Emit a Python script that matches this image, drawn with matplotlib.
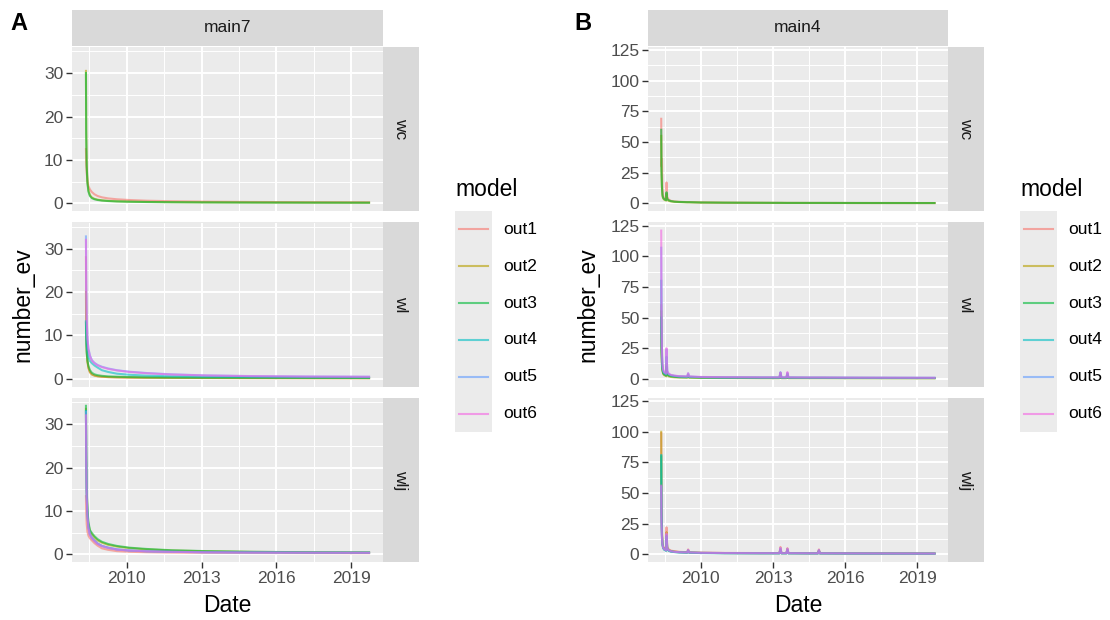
import matplotlib
matplotlib.use("Agg")
import matplotlib.pyplot as plt
from matplotlib.ticker import FixedLocator

plt.rcParams['font.family'] = ['Liberation Sans', 'DejaVu Sans']

# ---------------- data ----------------
models = ["out1", "out2", "out3", "out4", "out5", "out6"]
colors = ["#F8766D", "#B79F00", "#00BA38", "#00BFC4", "#619CFF", "#F564E3"]
rows = ["wc", "wl", "wlj"]
x_breaks = [2010, 2013, 2016, 2019]
x_minor = [2008.5, 2011.5, 2014.5, 2017.5]

# Panel A (main7) – time points (decimal years)
tA = [2008.36, 2008.37, 2008.39, 2008.42, 2008.46, 2008.52, 2008.60, 2008.70, 2008.83, 2009.0,
      2009.25, 2009.6, 2010.1, 2010.8, 2011.8, 2013.2, 2015.0, 2017.2, 2019.72]

a_wc_out1 = [12.5, 9.5, 7.0, 5.2, 4.0, 3.2, 2.6, 2.1, 1.7, 1.4, 1.15, 0.95, 0.78, 0.62, 0.5, 0.4, 0.33, 0.28, 0.25]
a_wc_out2 = [30.5, 17, 9, 5.0, 3.0, 1.9, 1.35, 1.05, 0.85, 0.7, 0.58, 0.48, 0.4, 0.33, 0.28, 0.24, 0.2, 0.18, 0.16]
a_wc_out3 = [30.0, 16, 8.5, 4.6, 2.7, 1.7, 1.2, 0.95, 0.78, 0.65, 0.54, 0.45, 0.38, 0.32, 0.27, 0.23, 0.2, 0.18, 0.16]

a_wl_out1 = [28, 14, 7.5, 4.2, 2.6, 1.6, 1.1, 0.8, 0.62, 0.5, 0.42, 0.36, 0.31, 0.27, 0.24, 0.21, 0.19, 0.17, 0.16]
a_wl_out2 = [20, 11, 6.5, 3.9, 2.5, 1.5, 1.0, 0.75, 0.6, 0.5, 0.42, 0.36, 0.31, 0.27, 0.24, 0.21, 0.19, 0.17, 0.16]
a_wl_out3 = [13, 9, 6, 4.2, 3.0, 2.0, 1.4, 1.05, 0.85, 0.7, 0.58, 0.5, 0.43, 0.37, 0.32, 0.28, 0.25, 0.23, 0.21]
a_wl_out4 = [13.3, 10.5, 8.0, 6.2, 5.0, 4.1, 3.6, 3.1, 2.6, 2.0, 1.6, 1.2, 0.95, 0.75, 0.6, 0.5, 0.43, 0.38, 0.35]
a_wl_out5 = [32.8, 22, 14, 9.5, 7.0, 5.4, 4.3, 3.7, 3.2, 2.8, 2.4, 2.0, 1.65, 1.35, 1.05, 0.8, 0.65, 0.55, 0.5]
a_wl_out6 = [32.0, 21, 13.5, 9.2, 6.8, 5.2, 4.2, 3.6, 3.1, 2.7, 2.3, 1.95, 1.6, 1.3, 1.0, 0.78, 0.63, 0.53, 0.48]

a_wlj_out1 = [13.4, 10, 7.0, 5.2, 4.3, 3.7, 3.2, 2.6, 2.0, 1.4, 1.05, 0.75, 0.6, 0.5, 0.42, 0.36, 0.32, 0.3, 0.28]
a_wlj_out2 = [33.5, 23, 14.5, 10, 7.0, 5.3, 4.6, 3.9, 3.2, 2.7, 2.2, 1.8, 1.45, 1.15, 0.9, 0.72, 0.58, 0.5, 0.45]
a_wlj_out3 = [34.2, 24, 15, 10.5, 7.4, 5.6, 4.9, 4.2, 3.5, 2.9, 2.4, 1.95, 1.55, 1.25, 0.95, 0.75, 0.6, 0.5, 0.45]
a_wlj_out4 = [33, 22, 13.5, 9.0, 6.2, 4.6, 3.8, 3.2, 2.5, 1.95, 1.55, 1.15, 0.9, 0.72, 0.6, 0.5, 0.45, 0.4, 0.38]
a_wlj_out5 = [32.8, 22, 13.5, 9.0, 6.2, 4.6, 3.8, 3.2, 2.5, 1.95, 1.55, 1.15, 0.9, 0.72, 0.6, 0.5, 0.45, 0.4, 0.38]
a_wlj_out6 = [32.0, 21, 13, 8.6, 6.0, 4.5, 3.7, 3.1, 2.4, 1.9, 1.5, 1.1, 0.88, 0.7, 0.58, 0.48, 0.43, 0.4, 0.37]

# Panel B (main4)
tB = [2008.35, 2008.36, 2008.38, 2008.40, 2008.43, 2008.47, 2008.52, 2008.55, 2008.57, 2008.60,
      2008.66, 2008.75, 2008.9, 2009.1, 2009.43, 2009.47, 2009.51, 2010.0, 2011.0, 2012.5,
      2013.27, 2013.31, 2013.35, 2013.56, 2013.60, 2013.64, 2014.5, 2014.87, 2014.91, 2014.95,
      2016.5, 2019.72]

b_wc_out1 = [69, 30, 36, 12, 6, 4, 3.5, 3, 17, 5, 3, 2, 1.5, 1.2, 1, 1, 1, 0.7, 0.5, 0.4,
             0.35, 0.35, 0.35, 0.3, 0.3, 0.3, 0.3, 0.3, 0.3, 0.3, 0.25, 0.2]
b_wc_out2 = [55, 25, 12, 6, 4, 3, 2.5, 2.2, 8, 3, 2, 1.5, 1.2, 1.0, 0.8, 0.8, 0.8, 0.6, 0.45, 0.35,
             0.3, 0.3, 0.3, 0.3, 0.3, 0.3, 0.25, 0.25, 0.25, 0.25, 0.2, 0.2]
b_wc_out3 = [60, 28, 14, 7, 4.5, 3.5, 2.8, 2.5, 9, 3.5, 2.5, 1.8, 1.3, 1.1, 0.9, 0.9, 0.9, 0.65, 0.5, 0.4,
             0.35, 0.35, 0.35, 0.3, 0.3, 0.3, 0.3, 0.3, 0.3, 0.3, 0.25, 0.2]

b_wl_out1 = [60, 30, 14, 8, 5, 4, 3.5, 3, 12, 4, 3, 2.5, 2, 1.6, 1.5, 3, 1.5, 1.2, 1.0, 0.9,
             0.9, 5, 0.9, 0.9, 4.5, 0.9, 0.8, 0.8, 0.8, 0.8, 0.7, 0.6]
b_wl_out2 = [55, 25, 12, 7, 4, 3, 2.5, 2, 8, 3, 2, 1.5, 1.2, 1.0, 0.9, 1.5, 0.9, 0.7, 0.6, 0.5,
             0.5, 2, 0.5, 0.5, 2, 0.5, 0.5, 0.5, 0.5, 0.5, 0.45, 0.4]
b_wl_out3 = [50, 24, 12, 7, 4.5, 3.5, 3, 2.5, 10, 3.5, 2.5, 2, 1.6, 1.3, 1.1, 2, 1.1, 0.9, 0.7, 0.6,
             0.6, 3, 0.6, 0.6, 3, 0.6, 0.6, 0.6, 0.6, 0.6, 0.55, 0.5]
b_wl_out4 = [80, 40, 18, 9, 6, 4.5, 4, 3.5, 18, 5, 3.5, 2.8, 2.2, 1.8, 1.6, 3.5, 1.6, 1.3, 1.1, 1.0,
             1.0, 4.5, 1.0, 1.0, 4, 1.0, 0.9, 0.9, 0.9, 0.9, 0.8, 0.7]
b_wl_out5 = [107, 50, 22, 11, 7, 5, 4.5, 4, 24, 6, 4, 3, 2.5, 2, 1.8, 4.5, 1.8, 1.4, 1.2, 1.1,
             1.1, 5.5, 1.1, 1.1, 5, 1.1, 1.0, 1.0, 1.0, 1.0, 0.9, 0.8]
b_wl_out6 = [121, 55, 24, 12, 7.5, 5.5, 5, 4.2, 25, 6.5, 4.2, 3.2, 2.6, 2.1, 1.9, 4.5, 1.9, 1.5, 1.3, 1.1,
             1.1, 5, 1.1, 1.1, 5.5, 1.1, 1.0, 1.0, 1.0, 1.0, 0.9, 0.8]

b_wlj_out1 = [99, 45, 20, 10, 6.5, 5, 4.5, 4, 22, 6, 4, 3, 2.5, 2, 1.7, 4, 1.7, 1.3, 1.1, 1.0,
              1.0, 6, 1.0, 1.0, 5, 1.0, 0.9, 0.9, 4, 0.9, 0.8, 0.7]
b_wlj_out2 = [100, 40, 18, 9, 6, 4.5, 4, 3.5, 18, 5, 3.5, 2.7, 2.2, 1.8, 1.5, 3, 1.5, 1.2, 1.0, 0.9,
              0.9, 4, 0.9, 0.9, 4, 0.9, 0.8, 0.8, 3, 0.8, 0.7, 0.6]
b_wlj_out3 = [80, 35, 16, 8, 5.5, 4, 3.5, 3, 15, 4.5, 3, 2.3, 1.9, 1.6, 1.4, 3, 1.4, 1.1, 0.9, 0.8,
              0.8, 4, 0.8, 0.8, 3.5, 0.8, 0.7, 0.7, 3, 0.7, 0.6, 0.55]
b_wlj_out4 = [81, 35, 15, 8, 5, 3.8, 3.3, 2.8, 14, 4, 2.8, 2.2, 1.8, 1.5, 1.3, 2.5, 1.3, 1.0, 0.85, 0.75,
              0.75, 3, 0.75, 0.75, 3, 0.75, 0.7, 0.7, 2.5, 0.7, 0.6, 0.5]
b_wlj_out5 = [55, 28, 14, 8, 5.5, 4.2, 3.7, 3.2, 16, 4.8, 3.3, 2.5, 2.0, 1.7, 1.5, 3.5, 1.5, 1.2, 1.0, 0.9,
              0.9, 5, 0.9, 0.9, 4.5, 0.9, 0.8, 0.8, 3.5, 0.8, 0.7, 0.6]
b_wlj_out6 = [56, 28, 14, 8, 5.5, 4.2, 3.7, 3.2, 17, 4.8, 3.3, 2.5, 2.0, 1.7, 1.5, 3.5, 1.5, 1.2, 1.0, 0.9,
              0.9, 5, 0.9, 0.9, 4.5, 0.9, 0.8, 0.8, 3.5, 0.8, 0.7, 0.6]

panelA = {
    "wc": [a_wc_out1, a_wc_out2, a_wc_out3],
    "wl": [a_wl_out1, a_wl_out2, a_wl_out3, a_wl_out4, a_wl_out5, a_wl_out6],
    "wlj": [a_wlj_out1, a_wlj_out2, a_wlj_out3, a_wlj_out4, a_wlj_out5, a_wlj_out6],
}
panelB = {
    "wc": [b_wc_out1, b_wc_out2, b_wc_out3],
    "wl": [b_wl_out1, b_wl_out2, b_wl_out3, b_wl_out4, b_wl_out5, b_wl_out6],
    "wlj": [b_wlj_out1, b_wlj_out2, b_wlj_out3, b_wlj_out4, b_wlj_out5, b_wlj_out6],
}

# ---------------- layout ----------------
W, H = 1110, 620
fig = plt.figure(figsize=(W / 100, H / 100), dpi=100)
fig.patch.set_facecolor("white")


def rect(x0, y0, x1, y1):
    return [x0 / W, 1 - y1 / H, (x1 - x0) / W, (y1 - y0) / H]


PANEL_BG = "#EBEBEB"
STRIP_BG = "#D9D9D9"
TICK_FS = 12.5
TITLE_FS = 16.5
LW = 1.5
ALPHA = 0.6
row_y = [(47, 211), (222.5, 386.5), (398, 562)]


def draw_block(x0, x1, strip_label, data, t, ylim, yticks, yminor, label, label_x,
               ylab_x, leg_x):
    # top strip
    sa = fig.add_axes(rect(x0, 10, x1, 46))
    sa.set_facecolor(STRIP_BG)
    sa.set_xticks([]); sa.set_yticks([])
    for s in sa.spines.values():
        s.set_visible(False)
    sa.text(0.5, 0.5, strip_label, ha="center", va="center", fontsize=TICK_FS,
            color="#1A1A1A", transform=sa.transAxes)
    for i, r in enumerate(rows):
        y0, y1 = row_y[i]
        ax = fig.add_axes(rect(x0, y0, x1, y1))
        ax.set_facecolor(PANEL_BG)
        for s in ax.spines.values():
            s.set_visible(False)
        ax.set_axisbelow(True)
        for k, series in enumerate(data[r]):
            ax.plot(t, series, color=colors[k], lw=LW, alpha=ALPHA,
                    solid_joinstyle="round")
        ax.set_xlim(2007.8, 2020.28)
        ax.set_ylim(*ylim)
        ax.xaxis.set_major_locator(FixedLocator(x_breaks))
        ax.xaxis.set_minor_locator(FixedLocator(x_minor))
        ax.yaxis.set_major_locator(FixedLocator(yticks))
        ax.yaxis.set_minor_locator(FixedLocator(yminor))
        ax.grid(which="major", color="white", lw=1.4)
        ax.grid(which="minor", color="white", lw=0.7)
        ax.tick_params(which="minor", length=0)
        ax.tick_params(axis="y", which="major", length=4.3, width=1.0, color="#333333",
                       labelsize=TICK_FS, labelcolor="#4D4D4D", pad=2)
        ax.set_yticklabels([str(v) for v in yticks])
        if i == 2:
            ax.tick_params(axis="x", which="major", length=4.3, width=1.0, color="#333333",
                           labelsize=TICK_FS, labelcolor="#4D4D4D", pad=2)
            ax.set_xticklabels([str(v) for v in x_breaks])
        else:
            ax.tick_params(axis="x", which="major", length=0, labelbottom=False)
        # right strip
        ra = fig.add_axes(rect(x1, y0, x1 + 36, y1))
        ra.set_facecolor(STRIP_BG)
        ra.set_xticks([]); ra.set_yticks([])
        for s in ra.spines.values():
            s.set_visible(False)
        ra.text(0.5, 0.5, r, ha="center", va="center", rotation=-90, fontsize=TICK_FS,
                color="#1A1A1A", transform=ra.transAxes)
    # axis titles
    fig.text((x0 + x1) / 2 / W, 1 - 605 / H, "Date", ha="center", va="center",
             fontsize=TITLE_FS, color="black")
    fig.text(ylab_x / W, 1 - 304.5 / H, "number_ev", ha="center", va="center",
             rotation=90, fontsize=TITLE_FS, color="black")
    # panel label
    fig.text(label_x / W, 1 - 23 / H, label, ha="left", va="center", fontsize=17,
             fontweight="bold", color="black")
    # legend
    fig.text(leg_x / W, 1 - 190 / H, "model", ha="left", va="center",
             fontsize=TITLE_FS, color="black")
    la = fig.add_axes(rect(leg_x, 211, leg_x + 37, 432))
    la.set_facecolor(PANEL_BG)
    la.set_xlim(0, 1)
    la.set_ylim(6, 0)
    la.set_xticks([]); la.set_yticks([])
    for s in la.spines.values():
        s.set_visible(False)
    for k, m in enumerate(models):
        la.plot([0.1, 0.9], [k + 0.5, k + 0.5], color=colors[k], lw=LW, alpha=ALPHA)
        fig.text((leg_x + 48) / W, 1 - (211 + 36.8 * (k + 0.5)) / H, m, ha="left",
                 va="center", fontsize=TICK_FS, color="black")


draw_block(72, 383, "main7", panelA, tA, (-1.75, 36.0), [0, 10, 20, 30], [5, 15, 25, 35],
           "A", 10, 23, 455)
draw_block(648, 948, "main4", panelB, tB, (-6.3, 127.6), [0, 25, 50, 75, 100, 125],
           [12.5, 37.5, 62.5, 87.5, 112.5], "B", 574, 588, 1020)

fig.savefig("out.png", dpi=100)
